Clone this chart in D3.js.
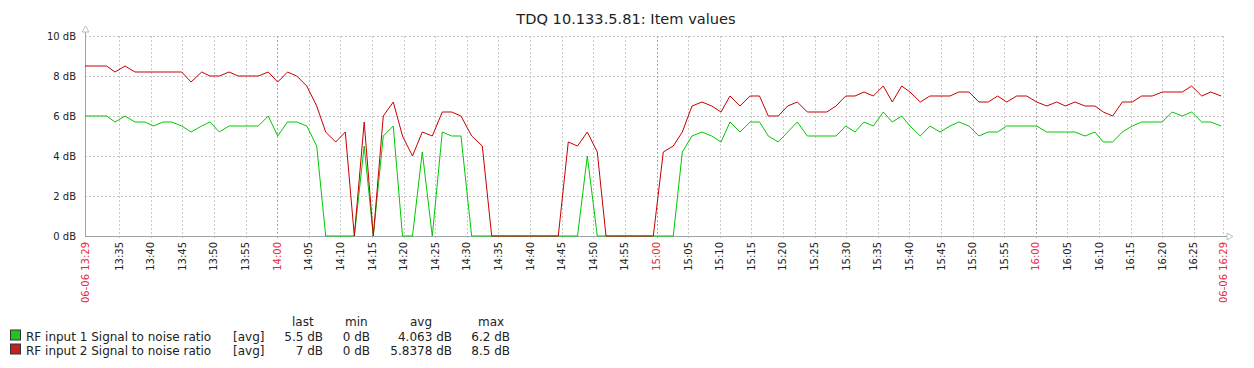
<!DOCTYPE html>
<html><head><meta charset="utf-8">
<script src="https://cdnjs.cloudflare.com/ajax/libs/d3/7.8.5/d3.min.js"></script>
<style>
html,body{margin:0;padding:0;background:#fff;}
svg{display:block;font-family:"DejaVu Sans",sans-serif;}
</style></head><body>
<svg id="chart" width="1254" height="368"></svg>
<script>
// ---- data ----
const title = "TDQ 10.133.5.81: Item values";
const startTime = "2024-06-06T13:29:36";   // left edge of the graph
const periodMinutes = 180;
// sample times, minutes after start
const minutesAfterStart = [0,1.74,3.43,4.75,6.33,7.91,9.49,10.80,12.38,13.71,15.30,16.77,18.46,19.77,21.24,22.78,24.25,25.78,27.41,28.99,
30.48,32.03,33.50,35.07,36.65,38.07,39.65,41.17,42.60,44.16,45.60,47.18,48.76,50.22,51.80,53.35,54.93,56.51,58.00,59.47,
61.16,62.84,64.33,65.83,67.33,68.83,70.34,71.84,73.36,74.86,76.44,77.90,79.45,81.03,82.41,83.91,85.41,86.91,88.42,89.89,
91.47,93.05,94.48,96.01,97.59,99.13,100.60,102.02,103.61,105.19,106.69,108.08,109.66,111.15,112.67,114.25,115.78,117.32,118.79,120.32,
121.79,123.22,124.69,126.27,127.69,129.18,130.49,132.12,133.65,135.24,136.82,138.21,139.82,141.40,142.87,144.36,145.78,147.37,148.95,150.53,
152.11,153.69,155.08,156.59,158.17,159.75,161.06,162.55,164.07,165.65,167.13,168.81,170.39,171.97,173.56,175.04,176.63,178.05,179.7];
const rf1 = [6.0,6.0,6.0,5.7,6.0,5.7,5.7,5.5,5.7,5.7,5.5,5.2,5.5,5.7,5.2,5.5,5.5,5.5,5.5,6.0,
5.0,5.7,5.7,5.5,4.5,0,0,0,0,4.5,0,5.0,5.5,0,0,4.2,0,5.2,5.0,5.0,
0,0,0,0,0,0,0,0,0,0,0,0,4.0,0,0,0,0,0,0,0,
0,0,4.2,5.0,5.2,5.0,4.7,5.7,5.2,5.7,5.7,5.0,4.7,5.2,5.7,5.0,5.0,5.0,5.0,5.5,
5.2,5.7,5.5,6.2,5.7,6.0,5.5,5.0,5.5,5.2,5.5,5.7,5.5,5.0,5.2,5.2,5.5,5.5,5.5,5.5,
5.2,5.2,5.2,5.2,5.0,5.2,4.7,4.7,5.2,5.5,5.7,5.7,5.7,6.2,6.0,6.2,5.7,5.7,5.5];
const rf2 = [8.5,8.5,8.5,8.2,8.5,8.2,8.2,8.2,8.2,8.2,8.2,7.7,8.2,8.0,8.0,8.2,8.0,8.0,8.0,8.2,
7.7,8.2,8.0,7.5,6.5,5.2,4.7,5.2,0,5.7,0,6.0,6.7,5.0,4.0,5.2,5.0,6.2,6.2,6.0,
5.0,4.5,0,0,0,0,0,0,0,0,4.7,4.5,5.2,4.2,0,0,0,0,0,0,
4.2,4.5,5.2,6.5,6.7,6.5,6.2,7.0,6.5,7.0,7.0,6.0,6.0,6.5,6.7,6.2,6.2,6.2,6.5,7.0,
7.0,7.2,7.0,7.5,6.7,7.5,7.2,6.7,7.0,7.0,7.0,7.2,7.2,6.7,6.7,7.0,6.7,7.0,7.0,6.7,
6.5,6.7,6.5,6.7,6.5,6.5,6.2,6.0,6.7,6.7,7.0,7.0,7.2,7.2,7.2,7.5,7.0,7.2,7.0];
const seriesNames = ["RF input 1 Signal to noise ratio","RF input 2 Signal to noise ratio"];
const seriesColors = ["#00c800","#c80000"];
const legendFill = ["#22c322","#c42020"];
const statHeaders = ["last","min","avg","max"];
const statsRf1 = ["5.5 dB","0 dB","4.063 dB","6.2 dB"];
const statsRf2 = ["7 dB","0 dB","5.8378 dB","8.5 dB"];
const yTicks = [0,2,4,6,8,10];

// ---- layout ----
const svg = d3.select("#chart");
const L = 85, R = 1223, T = 36, B = 236;
const t0 = new Date(startTime);
const t1 = new Date(t0.getTime() + periodMinutes*60000);
const x = d3.scaleTime().domain([t0,t1]).range([L,R]);
const y = d3.scaleLinear().domain([0,10]).range([B,T]);
const tOf = m => new Date(t0.getTime() + m*60000);

// title
svg.append("text").attr("x",626).attr("y",24).attr("text-anchor","middle")
  .attr("font-size",14.6).attr("fill","#222").text(title);

// grid
const grid = svg.append("g");
yTicks.filter(v=>v>0).forEach(v=>{
  grid.append("line").attr("x1",L).attr("x2",R).attr("y1",y(v)+0.5).attr("y2",y(v)+0.5)
    .attr("stroke","#c8c8c8").attr("stroke-dasharray","2,2");
});
const fiveMin = d3.timeMinute.every(5).range(tOf(3), t1);
fiveMin.forEach(d=>{
  const isHour = d.getMinutes()===0;
  grid.append("line").attr("x1",Math.round(x(d))+0.5).attr("x2",Math.round(x(d))+0.5)
    .attr("y1",T).attr("y2",B+3)
    .attr("stroke",isHour?"#a8a8a8":"#c8c8c8").attr("stroke-dasharray","2,2");
});
// right border dashed
grid.append("line").attr("x1",R+0.5).attr("x2",R+0.5).attr("y1",T).attr("y2",B)
  .attr("stroke","#c8c8c8").attr("stroke-dasharray","2,2");

// y labels
svg.append("g").selectAll("text").data(yTicks).join("text")
  .attr("x",76).attr("y",d=>y(d)+4).attr("text-anchor","end")
  .attr("font-size",10).attr("fill","#222").text(d=>d+" dB");

// x labels
const fmt = d3.timeFormat("%H:%M");
const xl = svg.append("g").attr("font-size",10);
fiveMin.forEach(d=>{
  const isHour = d.getMinutes()===0;
  xl.append("text").attr("transform",`translate(${x(d)},242) rotate(-90)`)
    .attr("text-anchor","end").attr("dy","0.35em")
    .attr("fill",isHour?"#e8283c":"#222").text(fmt(d));
});
const fmtFull = d3.timeFormat("%m-%d %H:%M");
[t0,t1].forEach(d=>{
  xl.append("text").attr("transform",`translate(${x(d)},242) rotate(-90)`)
    .attr("text-anchor","end").attr("dy","0.35em")
    .attr("fill","#e8283c").text(fmtFull(d));
});

// axes
const ax = svg.append("g").attr("stroke","#9aa4aa").attr("fill","none");
ax.append("line").attr("x1",L+0.5).attr("x2",L+0.5).attr("y1",29).attr("y2",B+0.5);
ax.append("line").attr("x1",L).attr("x2",1229).attr("y1",B+0.5).attr("y2",B+0.5);
ax.append("path").attr("d",`M${L+0.5},26 L${L-3},32 L${L+4},32 Z`).attr("fill","#fff").attr("stroke","#b8c0c4");
ax.append("path").attr("d",`M1233,${B+0.5} L1227,${B-3} L1227,${B+4} Z`).attr("fill","#fff").attr("stroke","#b8c0c4");

// lines
const line = d3.line().x(d=>x(tOf(d[0]))).y(d=>y(d[1]));
[rf1, rf2].forEach((vals,i)=>{
  const pts = minutesAfterStart.map((m,j)=>[m, vals[j]]);
  svg.append("path").datum(pts).attr("d",line).attr("fill","none")
    .attr("stroke",seriesColors[i]).attr("stroke-width",1);
});

// legend
const lg = svg.append("g").attr("font-size",12).attr("fill","#222");
const headerX = [292,345,410,478];
statHeaders.forEach((h,i)=>lg.append("text").attr("x",headerX[i]).attr("y",326).text(h));
const valX = [323,370,452,510];
[statsRf1, statsRf2].forEach((st,r)=>{
  const yy = 340.5 + r*14;
  lg.append("rect").attr("x",10.5).attr("y",yy-10.5).attr("width",10).attr("height",10)
    .attr("fill",legendFill[r]).attr("stroke","#333");
  lg.append("text").attr("x",26).attr("y",yy).text(seriesNames[r]);
  lg.append("text").attr("x",233).attr("y",yy).text("[avg]");
  st.forEach((v,i)=>lg.append("text").attr("x",valX[i]).attr("y",yy).attr("text-anchor","end").text(v));
});
</script>
</body></html>
